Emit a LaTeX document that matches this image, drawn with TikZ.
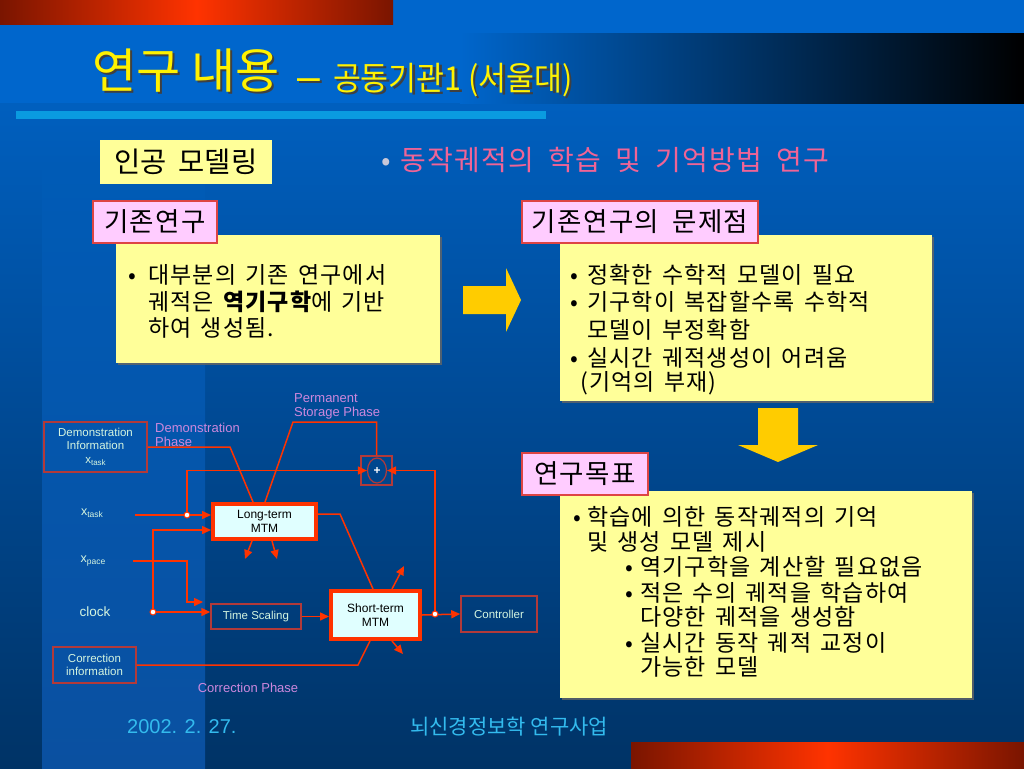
\documentclass[tikz,border=0pt]{standalone}
\usepackage{fontspec}
\setmainfont{Liberation Sans}
\newfontfamily\kr[LetterSpace=5]{Noto Sans CJK KR}
\newfontfamily\krt{Noto Sans CJK KR}
\usetikzlibrary{arrows.meta,shapes.geometric,shadows}
\definecolor{bgtop}{HTML}{0066CC}
\definecolor{bgmid}{HTML}{004C99}
\definecolor{bgbot}{HTML}{003366}
\definecolor{striptop}{HTML}{005BB6}
\definecolor{stripbot}{HTML}{0A50A0}
\definecolor{redline}{HTML}{FF3300}
\definecolor{boxred}{HTML}{B23A3A}
\definecolor{ltyellow}{HTML}{FFFF99}
\definecolor{ltpink}{HTML}{FFCCFF}
\definecolor{pinkedge}{HTML}{DD4444}
\definecolor{pinktxt}{HTML}{F06496}
\definecolor{lav}{HTML}{CC88DD}
\definecolor{pale}{HTML}{D4F5E0}
\definecolor{cyanfill}{HTML}{E0FFFF}
\definecolor{datecol}{HTML}{33BBEE}
\definecolor{arrowyel}{HTML}{FFCC00}
\definecolor{barbright}{HTML}{FF3300}
\definecolor{bardark}{HTML}{7A1500}
\definecolor{rulecol}{HTML}{0A9BE0}
\definecolor{bulgray}{HTML}{C8C8D8}
\newcommand{\mybul}[1]{\makebox[#1][l]{•}}
\newcommand{\wsp}{\spaceskip=0.4em\relax}
\newcommand{\wspw}{\spaceskip=0.5em\relax}
\begin{document}
\begin{tikzpicture}[x=1pt,y=-1pt,
  line/.style={draw=redline, line width=1.5pt},
  arr/.style={line, -{Triangle[length=9pt,width=8pt]}},
  thinbox/.style={draw=boxred, line width=1.5pt, inner sep=0, text=pale, font=\fontsize{11.5}{13.5}\selectfont, align=center},
  mtm/.style={draw=redline, line width=4pt, fill=cyanfill, inner sep=0, text=black, font=\fontsize{12}{13.5}\selectfont, align=center},
  dotn/.style={circle, draw=redline, fill=white, line width=1pt, inner sep=0, minimum size=6pt},
  phase/.style={text=lav, font=\fontsize{13}{14}\selectfont, inner sep=0, align=left},
  lbl/.style={text=pale, font=\fontsize{12.5}{14}\selectfont, inner sep=0},
  ybox/.style={fill=ltyellow, inner sep=0, drop shadow={shadow xshift=1.5pt, shadow yshift=-1.5pt, fill=black!60, opacity=0.8}},
  pbox/.style={fill=ltpink, draw=pinkedge, line width=1.2pt, inner sep=0, text=black, font=\kr\fontsize{26.5}{26.5}\selectfont\wspw},
  ktxt/.style={font=\kr\fontsize{23}{27}\selectfont\wsp, inner sep=0, anchor=west, text=black},
]
\useasboundingbox (0,0) rectangle (1024,768);
% background
\fill[top color=bgtop, bottom color=bgbot, middle color=bgmid] (0,0) rectangle (1024,768);
\fill[top color=striptop, bottom color=stripbot] (42,170) rectangle (205,768);
\fill[bgtop] (0,0) rectangle (1024,34);
\fill[bgtop] (0,34) rectangle (460,103);
\fill[left color=bgtop, right color=black] (460,34) rectangle (1024,103);
\fill[left color=bardark, right color=bardark, middle color=barbright] (0,0) rectangle (393,25);
\fill[rulecol] (16,111) rectangle (546,119);
\fill[left color=bardark, right color=bardark, middle color=barbright] (631,742) rectangle (1024,768);

% title (text with its shadow in one node)
\node[anchor=base west, inner sep=0] (title) at (92,88) {\krt\fontsize{48}{48}\selectfont\makebox[0pt][l]{\hspace{2.5pt}\raisebox{-2.5pt}{\textcolor{black!75}{연구 내용}}}\textcolor{yellow}{연구 내용}};
\node[anchor=base west, inner sep=0] (sub) at (297,90) {\makebox[0pt][l]{\hspace{2.5pt}\raisebox{-2.5pt}{\textcolor{black!75}{\fontsize{41}{41}\selectfont –\hspace{13pt}\krt\fontsize{33}{33}\selectfont\scalebox{0.92}[1]{공동기관1 (서울대)}}}}\textcolor{yellow}{\fontsize{41}{41}\selectfont –\hspace{13pt}\krt\fontsize{33}{33}\selectfont\scalebox{0.92}[1]{공동기관1 (서울대)}}};

% top labels
\node[fill=ltyellow, inner sep=0, minimum width=172pt, minimum height=44pt, font=\krt\fontsize{28.5}{28.5}\selectfont\wsp] (ingong) at (186,162) {인공 모델링};
\node[anchor=west, inner sep=0, font=\kr\fontsize{28}{28}\selectfont\wspw, text=pinktxt] (topic) at (381,160) {\textcolor{bulgray}{\mybul{19pt}}동작궤적의 학습 및 기억방법 연구};

% yellow boxes
\node[ybox, minimum width=324pt, minimum height=128pt] (yb1) at (278,299) {};
\node[ybox, minimum width=372pt, minimum height=166pt] (yb2) at (746,318) {};
\node[ybox, minimum width=412pt, minimum height=207pt] (yb3) at (766,594.5) {};

% pink labels
\node[pbox, minimum width=124pt, minimum height=42pt] (pk1) at (155,222) {기존연구};
\node[pbox, minimum width=236pt, minimum height=42pt] (pk2) at (640,222) {기존연구의 문제점};
\node[pbox, minimum width=126pt, minimum height=42pt] (pk3) at (585,474) {연구목표};

% box 1 text
\node[ktxt] (t11) at (128,275) {\mybul{20pt}대부분의 기존 연구에서};
\node[ktxt] (t12) at (148,302) {궤적은 {\bfseries 역기구학}에 기반};
\node[ktxt] (t13) at (148,328) {하여 생성됨.};
% box 2 text
\node[ktxt] (t21) at (570,275) {\mybul{17pt}정확한 수학적 모델이 필요};
\node[ktxt] (t22) at (570,302) {\mybul{17pt}기구학이 복잡할수록 수학적};
\node[ktxt] (t23) at (587,330) {모델이 부정확함};
\node[ktxt] (t24) at (570,358) {\mybul{17pt}실시간 궤적생성이 어려움};
\node[ktxt] (t25) at (580,383) {(기억의 부재)};
% box 3 text
\node[ktxt] (t31) at (573,517) {\mybul{14pt}학습에 의한 동작궤적의 기억};
\node[ktxt] (t32) at (587,542) {및 생성 모델 제시};
\node[ktxt] (t33) at (625,567) {\mybul{15pt}역기구학을 계산할 필요없음};
\node[ktxt] (t34) at (625,593) {\mybul{15pt}적은 수의 궤적을 학습하여};
\node[ktxt] (t35) at (640,617) {다양한 궤적을 생성함};
\node[ktxt] (t36) at (625,643) {\mybul{15pt}실시간 동작 궤적 교정이};
\node[ktxt] (t37) at (640,667) {가능한 모델};

% yellow arrows
\fill[arrowyel] (463,286) -- (506,286) -- (506,268) -- (521,300) -- (506,332) -- (506,314) -- (463,314) -- cycle;
\fill[arrowyel] (758,408) -- (798,408) -- (798,445) -- (818,445) -- (778,462) -- (738,445) -- (758,445) -- cycle;

% ---- diagram ----
\node[thinbox, minimum width=103pt, minimum height=50pt] (demo) at (95.5,447) {Demonstration\\Information\\x\raisebox{-2.5pt}{\fontsize{8}{8}\selectfont task}};
\node[thinbox, minimum width=83pt, minimum height=36pt] (corr) at (94.5,665) {Correction\\information};
\node[mtm, minimum width=103pt, minimum height=35pt] (lt) at (264.5,521.5) {Long-term\\MTM};
\node[mtm, minimum width=89pt, minimum height=48pt] (st) at (375.5,615) {Short-term\\MTM};
\node[thinbox, minimum width=90pt, minimum height=25pt] (ts) at (256,616.5) {Time Scaling};
\node[thinbox, minimum width=76pt, minimum height=36pt] (ctrl) at (499,614) {Controller};
\node[draw=boxred, line width=1.2pt, minimum width=31pt, minimum height=29pt, inner sep=0] (sum) at (376.5,470.5) {};
\node[ellipse, draw=boxred, line width=1.2pt, minimum width=19pt, minimum height=25pt, inner sep=0, text=white, font=\bfseries\fontsize{12}{12}\selectfont] (sumc) at (377,470.5) {+};

\node[lbl] (xtaskl) at (92,513) {x\raisebox{-2.5pt}{\fontsize{8.5}{8.5}\selectfont task}};
\node[lbl] (xpacel) at (93,561) {x\raisebox{-2.5pt}{\fontsize{8.5}{8.5}\selectfont pace}};
\node[lbl, font=\fontsize{13.5}{14}\selectfont] (clockl) at (95,612) {clock};

\node[phase, anchor=north west] (demoph) at (155,423) {Demonstration\\Phase};
\node[phase, anchor=north west] (permph) at (294,393) {Permanent\\Storage Phase};
\node[phase] (corrph) at (248,688) {Correction Phase};

\coordinate (xts) at (135,515);
\coordinate (xps) at (133,561);
\coordinate (xpk) at (187,602);
\coordinate (xpe) at (203,602);
\coordinate (kd1) at (230,447);
\coordinate (kp1) at (293,422);
\coordinate (kc1) at (358,665);
\coordinate (kl1) at (340,514);
\coordinate (o1) at (245,559);
\coordinate (o2) at (277,559);
\coordinate (o3) at (404,566);
\coordinate (o4) at (403,654);
\coordinate (d1p) at (187,515);
\coordinate (d2p) at (153,612);
\coordinate (d3p) at (435,614);

\draw[arr] (xts) -- (lt.west |- xts);
\draw[arr] (d1p) |- (sumc.west);
\draw[arr] (d3p) |- (sumc.east);
\draw[arr] (d2p) -- (ts.west |- d2p);
\draw[arr] (d2p) |- ([yshift=-8.5pt]lt.west);
\draw[arr] (xps) -| (xpk) -- (xpe);
\draw[arr] (ts.east) -- (st.west |- ts.east);
\draw[arr] (st.east) -- (ctrl.west);
\draw[line] (demo.east) -- (kd1) -- ([xshift=-11.5pt]lt.north);
\draw[line] ([xshift=0.5pt]lt.north) -- (kp1) -| (sum.north);
\draw[line] (corr.east) -- (kc1) -- ([xshift=-5.5pt]st.south);
\draw[line] ([yshift=7.5pt]lt.east) -- (kl1) -- ([xshift=-2.5pt]st.north);
\draw[arr] ([xshift=-12.5pt]lt.south) -- (o1);
\draw[arr] ([xshift=7.5pt]lt.south) -- (o2);
\draw[arr] ([xshift=16.5pt]st.north) -- (o3);
\draw[arr] ([xshift=16.5pt]st.south) -- (o4);

\node[dotn] (d1) at (d1p) {};
\node[dotn] (d2) at (d2p) {};
\node[dotn] (d3) at (d3p) {};

% footer
\node[anchor=west, inner sep=0, text=datecol, font=\fontsize{20}{20}\selectfont] (date) at (127,727) {2002. 2. 27.};
\node[anchor=west, inner sep=0, text=datecol, font=\krt\fontsize{21}{21}\selectfont] (org) at (410,727) {뇌신경정보학 연구사업};
\end{tikzpicture}
\end{document}
